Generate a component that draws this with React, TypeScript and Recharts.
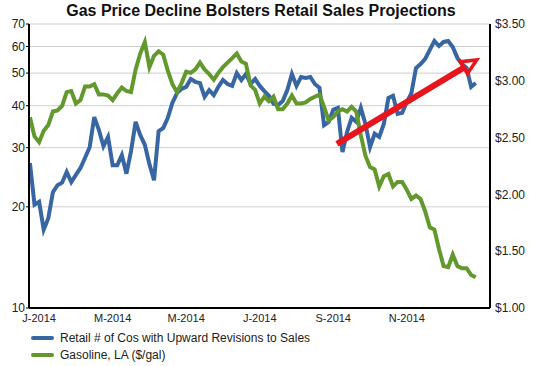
import React from "react";
import {
  LineChart,
  Line,
  XAxis,
  YAxis,
  CartesianGrid,
  ReferenceLine,
} from "recharts";

const title = "Gas Price Decline Bolsters Retail Sales Projections";

// roughly twice-weekly samples, Jan 2014 .. Dec 2014
const retailCos = [
  27.0, 20.3, 20.7, 17.1, 18.5, 22.1, 23.2, 23.6, 25.4, 23.7,
  24.9, 26.1, 28.0, 30.1, 37.0, 33.9, 30.3, 32.3, 26.6, 26.6,
  28.5, 25.1, 29.3, 35.8, 32.7, 30.6, 26.8, 24.0, 33.6, 34.3,
  36.8, 40.8, 43.6, 44.9, 45.5, 48.0, 47.1, 46.7, 42.5, 44.5,
  43.0, 45.5, 47.7, 46.4, 45.8, 50.0, 47.7, 49.7, 46.4, 48.0,
  45.8, 44.2, 42.8, 40.5, 40.2, 41.3, 44.5, 49.7, 45.8, 48.7,
  48.4, 48.7, 46.4, 45.2, 35.0, 35.8, 38.9, 39.4, 29.1, 33.4,
  36.8, 35.8, 39.4, 35.3, 30.1, 33.0, 32.3, 35.3, 42.2, 42.8,
  37.8, 38.1, 41.0, 43.6, 51.8, 53.2, 55.1, 58.6, 62.3, 60.2,
  61.9, 62.3, 59.8, 55.5, 53.2, 51.8, 45.5, 46.7,
];

const gasolineLA = [
  2.68, 2.51, 2.46, 2.56, 2.61, 2.73, 2.74, 2.78, 2.90, 2.91,
  2.80, 2.83, 2.95, 2.95, 2.97, 2.88, 2.88, 2.87, 2.83, 2.89,
  2.94, 2.91, 2.90, 3.10, 3.24, 3.34, 3.12, 3.22, 3.26, 3.23,
  3.09, 2.97, 2.90, 2.98, 3.08, 3.07, 3.10, 3.16, 3.10, 3.06,
  3.01, 3.07, 3.12, 3.16, 3.20, 3.24, 3.17, 3.15, 2.96, 2.92,
  2.80, 2.86, 2.82, 2.86, 2.75, 2.75, 2.80, 2.87, 2.80, 2.80,
  2.81, 2.84, 2.86, 2.88, 2.77, 2.65, 2.68, 2.73, 2.75, 2.73,
  2.77, 2.73, 2.52, 2.34, 2.24, 2.22, 2.07, 2.16, 2.18, 2.07,
  2.11, 2.11, 2.04, 1.96, 1.99, 1.96, 1.85, 1.71, 1.69, 1.52,
  1.37, 1.36, 1.47, 1.37, 1.35, 1.35, 1.29, 1.27,
];

const monthTicks = [2, 18, 34, 50, 66, 82];
const monthLabels = ["J-2014", "M-2014", "M-2014", "J-2014", "S-2014", "N-2014"];
const leftTicks = [10, 20, 30, 40, 50, 60, 70];
const rightTicks = [1, 1.5, 2, 2.5, 3, 3.5];

// trend arrow (sample index, retail count)
const arrowFrom = { x: 66.8, y: 30.8 };
const arrowTo = { x: 97.2, y: 54.7 };

const data = retailCos.map((v, i) => ({ i, retail: v, gas: gasolineLA[i] }));

const BLUE = "#3866a3";
const GREEN = "#62982c";
const RED = "#e8151e";
const FONT = "'Liberation Sans', Arial, sans-serif";

function Arrow(props) {
  const { x1, y1, x2, y2 } = props;
  const dx = x2 - x1;
  const dy = y2 - y1;
  const len = Math.sqrt(dx * dx + dy * dy);
  const ux = dx / len;
  const uy = dy / len;
  const head = 15;
  const half = 7;
  const bx = x2 - ux * head;
  const by = y2 - uy * head;
  const pts = [
    [x2, y2],
    [bx - uy * half, by + ux * half],
    [bx + uy * half, by - ux * half],
  ]
    .map((p) => p.join(","))
    .join(" ");
  return (
    <g>
      <line x1={x1} y1={y1} x2={bx + ux * 2} y2={by + uy * 2} stroke={RED} strokeWidth={6} />
      <polygon points={pts} fill="none" stroke={RED} strokeWidth={3.5} strokeLinejoin="miter" />
    </g>
  );
}

export default function App() {
  return (
    <div style={{ position: "relative", width: 541, height: 366, background: "#fff", fontFamily: FONT }}>
      <style>{"body{margin:0}"}</style>
      <div
        style={{
          position: "absolute",
          top: 2,
          left: 0,
          width: 522,
          textAlign: "center",
          fontWeight: "bold",
          fontSize: 16,
          color: "#111",
        }}
      >
        {title}
      </div>
      <LineChart
        width={541}
        height={366}
        data={data}
        margin={{ top: 24, right: 0, bottom: 38, left: 0 }}
      >
        <CartesianGrid yAxisId="left" vertical={false} stroke="#cfcfcf" strokeWidth={1} />
        <XAxis
          dataKey="i"
          type="number"
          domain={[-0.2, 100.1]}
          ticks={monthTicks}
          tickFormatter={(v) => monthLabels[monthTicks.indexOf(v)]}
          interval={0}
          height={20}
          tickLine={false}
          tickSize={6}
          tickMargin={0}
          axisLine={{ stroke: "#000", strokeWidth: 2 }}
          tick={{ fill: "#222", fontSize: 11, fontFamily: FONT }}
          allowDataOverflow
        />
        <YAxis
          yAxisId="left"
          scale="log"
          domain={[10, 70]}
          ticks={leftTicks}
          interval={0}
          width={29}
          tickSize={3}
          tickMargin={1}
          tickLine={{ stroke: "#000" }}
          axisLine={{ stroke: "#000", strokeWidth: 2 }}
          tick={{ fill: "#222", fontSize: 12, fontFamily: FONT }}
          allowDataOverflow
        />
        <YAxis
          yAxisId="right"
          orientation="right"
          domain={[1, 3.5]}
          ticks={rightTicks}
          interval={0}
          width={51}
          tickSize={3}
          tickMargin={2}
          tickLine={false}
          tickFormatter={(v) => "$" + v.toFixed(2)}
          axisLine={{ stroke: "#000", strokeWidth: 2 }}
          tick={{ fill: "#222", fontSize: 12, fontFamily: FONT }}
          allowDataOverflow
        />
        <Line
          yAxisId="left"
          type="linear"
          dataKey="retail"
          stroke={BLUE}
          strokeWidth={4}
          dot={false}
          isAnimationActive={false}
        />
        <Line
          yAxisId="right"
          type="linear"
          dataKey="gas"
          stroke={GREEN}
          strokeWidth={4}
          dot={false}
          isAnimationActive={false}
        />
        <ReferenceLine
          yAxisId="left"
          segment={[arrowFrom, arrowTo]}
          shape={Arrow}
          ifOverflow="visible"
        />
      </LineChart>
      <div style={{ position: "absolute", left: 31, top: 330, fontSize: 12, color: "#222", lineHeight: "16.5px" }}>
        <div style={{ display: "flex", alignItems: "center" }}>
          <span style={{ display: "inline-block", width: 23, height: 4, background: BLUE, borderRadius: 2, marginRight: 6 }} />
          Retail # of Cos with Upward Revisions to Sales
        </div>
        <div style={{ display: "flex", alignItems: "center" }}>
          <span style={{ display: "inline-block", width: 23, height: 4, background: GREEN, borderRadius: 2, marginRight: 6 }} />
          Gasoline, LA ($/gal)
        </div>
      </div>
    </div>
  );
}
